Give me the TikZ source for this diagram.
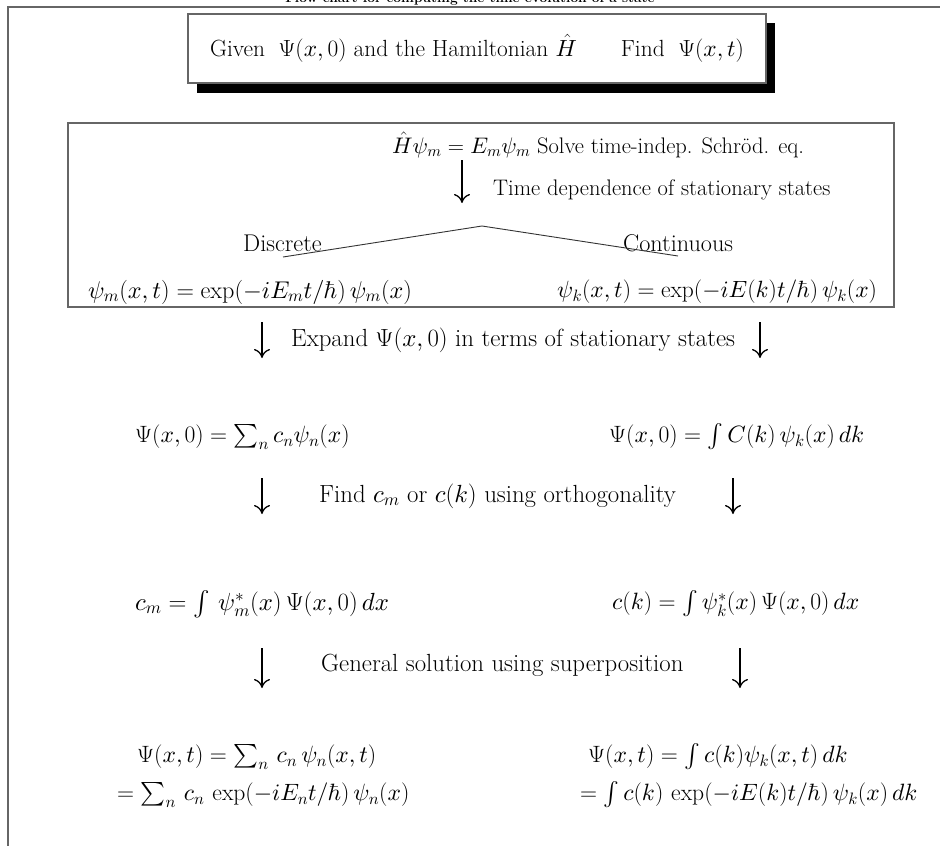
\documentclass[tikz,border=0pt]{standalone}
\usepackage{fix-cm}
\DeclareFontShape{OMX}{cmex}{m}{n}{<->cmex10}{}
\DeclareFontShape{OML}{cmm}{m}{it}{<->cmmi10}{}
\DeclareFontShape{OMS}{cmsy}{m}{n}{<->cmsy10}{}
\usetikzlibrary{arrows.meta}
\begin{document}
\begin{tikzpicture}[x=1pt,y=-1pt,
  boxtxt/.style={anchor=west, inner sep=0pt, font=\fontsize{22.5}{27}\selectfont},
  boxtxtb/.style={anchor=west, inner sep=0pt, font=\fontsize{24.2}{29}\selectfont},
  lowtxt/.style={anchor=west, inner sep=0pt, font=\fontsize{24.8}{30}\selectfont},
  lowmath/.style={anchor=west, inner sep=0pt, font=\fontsize{23.6}{28}\selectfont},
  darr/.style={-{To[length=9pt,width=16pt]}, line width=1.3pt},
  frameline/.style={draw=gray!80!black, line width=1.2pt},
  branch/.style={draw=gray!40!black, line width=0.9pt}]
\useasboundingbox (0,0) rectangle (940,846);
\begin{scope}
\clip (0,0) rectangle (940,846);
\node[inner sep=0pt, anchor=base, font=\fontsize{13.7}{16}\selectfont\bfseries] (title) at (470,2) {Flow chart for computing the time evolution of a state};
\end{scope}
% outer frame
\coordinate (fb) at (8,846);
\coordinate (ftl) at (8,7);
\coordinate (ftr) at (940,7);
\draw[frameline] (fb) -- (ftl) -- (ftr);
% title box
\fill[black] (197,23) rectangle (775,93);
\node[draw=gray!80!black, line width=1.2pt, fill=white, minimum width=578pt, minimum height=69pt, inner sep=0pt,
  font=\fontsize{23.4}{28}\selectfont] (given) at (477,48.5)
  {Given \;$\Psi(x,0)$ and the Hamiltonian $\hat H$ \quad\; Find \;$\Psi(x,t)$};
% second box
\node[draw=gray!80!black, line width=1.2pt, minimum width=826pt, minimum height=184pt, inner sep=0pt] (box) at (481,215) {};
\node[boxtxt] (hpsi) at (392,145) {$\hat H\psi_m = E_m\psi_m$ Solve time-indep. Schr\"od. eq.};
\coordinate (a0s) at (462,160);
\coordinate (a0e) at (462,203);
\draw[darr] (a0s) -- (a0e);
\node[boxtxt] (timedep) at (493,190) {Time dependence of stationary states};
\node[boxtxtb] (discrete) at (243,243) {Discrete};
\node[boxtxtb] (continuous) at (623,243) {Continuous};
\coordinate (bl) at (283,257);
\coordinate (bt) at (482,226);
\coordinate (br) at (678,256);
\draw[branch] (bl) -- (bt) -- (br);
\node[boxtxtb] (psim) at (88,292) {$\psi_m(x,t) = \exp(-iE_m t/\hbar)\,\psi_m(x)$};
\node[boxtxtb, font=\fontsize{23.5}{28}\selectfont] (psik) at (557,292) {$\psi_k(x,t) = \exp(-iE(k) t/\hbar)\,\psi_k(x)$};
% expand
\coordinate (a1ls) at (262,322); \coordinate (a1le) at (262,358);
\coordinate (a1rs) at (760,322); \coordinate (a1re) at (760,358);
\draw[darr] (a1ls) -- (a1le);
\draw[darr] (a1rs) -- (a1re);
\node[lowtxt] (expand) at (291,340) {Expand $\Psi(x,0)$ in terms of stationary states};
\node[lowmath] (psi0n) at (135,437) {$\Psi(x,0) = \sum_n c_n\psi_n(x)$};
\node[lowmath] (psi0k) at (609,437) {$\Psi(x,0) = \int C(k)\,\psi_k(x)\,dk$};
% find
\coordinate (a2ls) at (262,478); \coordinate (a2le) at (262,514);
\coordinate (a2rs) at (733,478); \coordinate (a2re) at (733,514);
\draw[darr] (a2ls) -- (a2le);
\draw[darr] (a2rs) -- (a2re);
\node[lowtxt] (find) at (319,496) {Find $c_m$ or $c(k)$ using orthogonality};
\node[lowtxt] (cm) at (135,604) {$c_m = \int\, \psi_m^*(x)\,\Psi(x,0)\,dx$};
\node[lowmath] (ck) at (612,604) {$c(k) = \int \psi_k^*(x)\,\Psi(x,0)\,dx$};
% general
\coordinate (a3ls) at (262,648); \coordinate (a3le) at (262,688);
\coordinate (a3rs) at (740,648); \coordinate (a3re) at (740,688);
\draw[darr] (a3ls) -- (a3le);
\draw[darr] (a3rs) -- (a3re);
\node[lowtxt] (general) at (321,665) {General solution using superposition};
\node[lowmath] (psit1) at (137,757) {$\Psi(x,t) = \sum_n\, c_n\,\psi_n(x,t)$};
\node[lowmath] (psit2) at (117,795) {$= \sum_n\, c_n\,\exp(-iE_n t/\hbar)\,\psi_n(x)$};
\node[lowmath] (psitk1) at (588,757) {$\Psi(x,t) = \int c(k)\psi_k(x,t)\,dk$};
\node[lowmath] (psitk2) at (580,795) {$= \int c(k)\,\exp(-iE(k)t/\hbar)\,\psi_k(x)\,dk$};
\end{tikzpicture}
\end{document}
